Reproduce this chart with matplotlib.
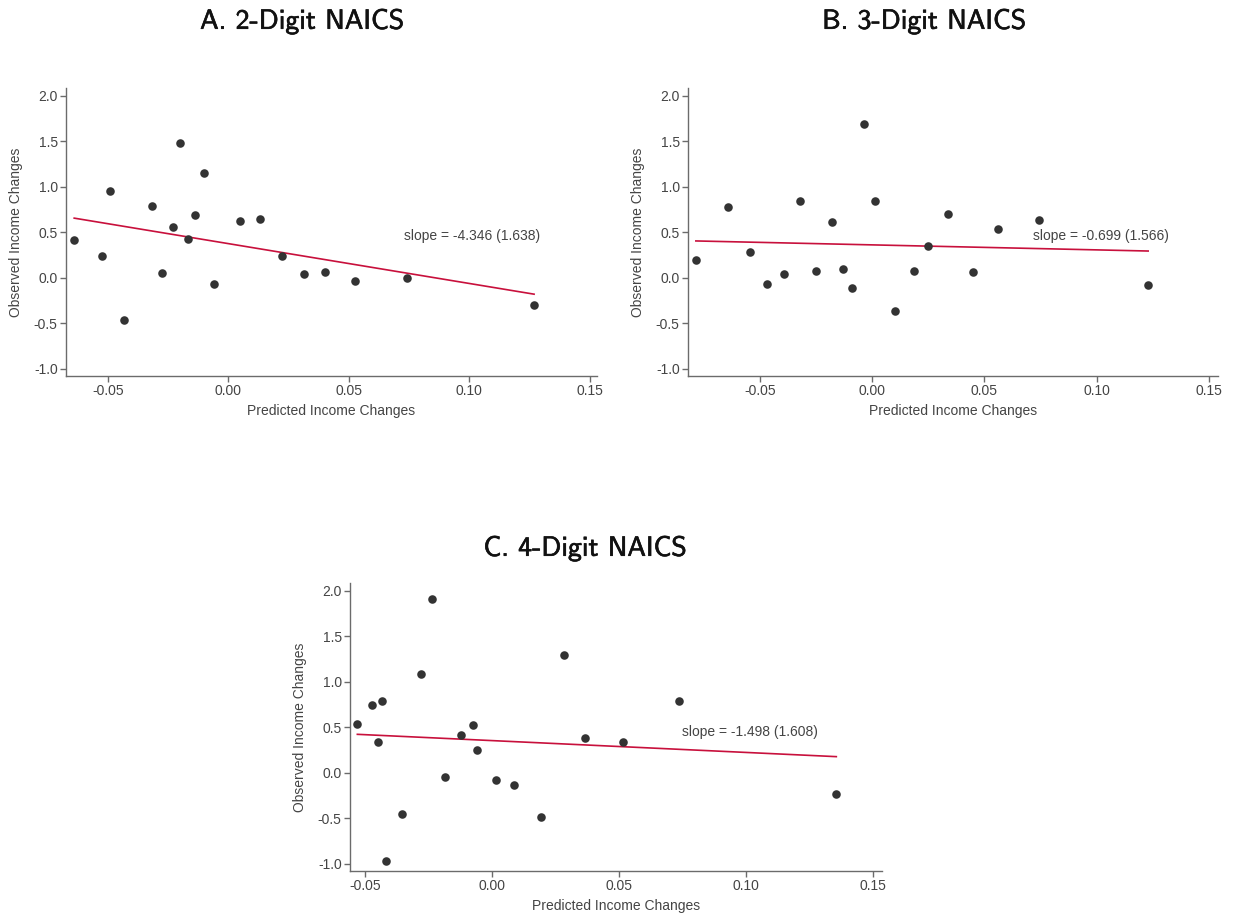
import matplotlib
matplotlib.use("Agg")
import matplotlib.pyplot as plt
import matplotlib.patheffects as pe
import numpy as np

# ---- data ----
titles = ["A. 2-Digit NAICS", "B. 3-Digit NAICS", "C. 4-Digit NAICS"]
slope_labels = ["slope = -4.346 (1.638)", "slope = -0.699 (1.566)", "slope = -1.498 (1.608)"]

x_a = [-0.0639, -0.0524, -0.0489, -0.0433, -0.0316, -0.0273, -0.0231, -0.0198, -0.0166, -0.0138,
       -0.0102, -0.0059, 0.0048, 0.0133, 0.0224, 0.0313, 0.0402, 0.0526, 0.0740, 0.1269]
y_a = [0.412, 0.235, 0.949, -0.463, 0.783, 0.048, 0.555, 1.478, 0.430, 0.691,
       1.151, -0.066, 0.625, 0.640, 0.235, 0.040, 0.063, -0.037, 0.000, -0.305]

x_b = [-0.0785, -0.0643, -0.0545, -0.0469, -0.0392, -0.0322, -0.0252, -0.0177, -0.0131, -0.0089,
       -0.0035, 0.0014, 0.0100, 0.0187, 0.0248, 0.0336, 0.0451, 0.0559, 0.0741, 0.1229]
y_b = [0.191, 0.779, 0.283, -0.066, 0.040, 0.846, 0.077, 0.614, 0.099, -0.118,
       1.691, 0.846, -0.368, 0.077, 0.353, 0.695, 0.066, 0.533, 0.629, -0.081]

x_c = [-0.0531, -0.0475, -0.0450, -0.0434, -0.0417, -0.0354, -0.0282, -0.0237, -0.0187, -0.0121,
       -0.0074, -0.0058, 0.0017, 0.0088, 0.0193, 0.0285, 0.0364, 0.0517, 0.0735, 0.1356]
y_c = [0.532, 0.742, 0.334, 0.793, -0.966, -0.455, 1.087, 1.913, -0.044, 0.411,
       0.525, 0.246, -0.077, -0.136, -0.488, 1.296, 0.378, 0.341, 0.793, -0.231]

# fitted line (intercept, slope) as drawn
fit_intercept = [0.375, 0.361, 0.353]
fit_slope = [-4.38, -0.55, -1.30]

# slope label anchor (data coords)
label_x = [0.0731, 0.0717, 0.0748]
label_y = [0.46, 0.46, 0.45]

xlims = [(-0.0673, 0.153), (-0.082, 0.154), (-0.056, 0.1536)]
ylims = (-1.08, 2.085)
xticks = [-0.05, 0.00, 0.05, 0.10, 0.15]
xticklabels = ["-0.05", "0.00", "0.05", "0.10", "0.15"]
yticks = [-1.0, -0.5, 0.0, 0.5, 1.0, 1.5, 2.0]
yticklabels = ["-1.0", "-0.5", "0.0", "0.5", "1.0", "1.5", "2.0"]

# ---- style ----
W, H = 1235, 913
plt.rcParams['font.family'] = ['Liberation Sans', 'DejaVu Sans']
fig = plt.figure(figsize=(W / 100, H / 100), dpi=100)
fig.patch.set_facecolor('white')

axes_px = [(66, 88, 597, 376), (688, 88, 1218, 376), (350, 583, 882, 871)]
title_px = [(302, 21), (924, 21), (585, 548)]

spine_col = '#6b6b6b'
text_col = '#444444'
dot_col = '#333333'
line_col = '#C8103C'

xs = [x_a, x_b, x_c]
ys = [y_a, y_b, y_c]

for i in range(3):
    l, t, r, b = axes_px[i]
    ax = fig.add_axes([l / W, 1 - b / H, (r - l) / W, (b - t) / H])
    x = np.array(xs[i]); y = np.array(ys[i])
    ax.scatter(x, y, s=38, color=dot_col, zorder=3, linewidths=0)
    xx = np.array([x.min(), x.max()])
    ax.plot(xx, fit_intercept[i] + fit_slope[i] * xx, color=line_col, lw=1.2, zorder=2)
    ax.text(label_x[i], label_y[i], slope_labels[i], ha='left', va='center',
            fontsize=10, color=text_col)
    ax.set_xlim(*xlims[i]); ax.set_ylim(*ylims)
    ax.set_xticks(xticks); ax.set_xticklabels(xticklabels)
    ax.set_yticks(yticks); ax.set_yticklabels(yticklabels)
    for s in ['top', 'right']:
        ax.spines[s].set_visible(False)
    for s in ['left', 'bottom']:
        ax.spines[s].set_color(spine_col)
        ax.spines[s].set_linewidth(1.0)
    ax.tick_params(axis='both', colors=spine_col, labelcolor=text_col, labelsize=10,
                   length=4, width=1.0, pad=2)
    ax.set_xlabel("Predicted Income Changes", fontsize=10, color=text_col, labelpad=4)
    ax.set_ylabel("Observed Income Changes", fontsize=10, color=text_col, labelpad=8)
    ax.set_facecolor('white')

    tx, ty = title_px[i]
    fig.text(tx / W, 1 - ty / H, titles[i], ha='center', va='center', fontsize=20,
             family='cmss10', color='#111111',
             path_effects=[pe.withStroke(linewidth=0.45, foreground='#111111')])

fig.savefig("out.png", dpi=100)
